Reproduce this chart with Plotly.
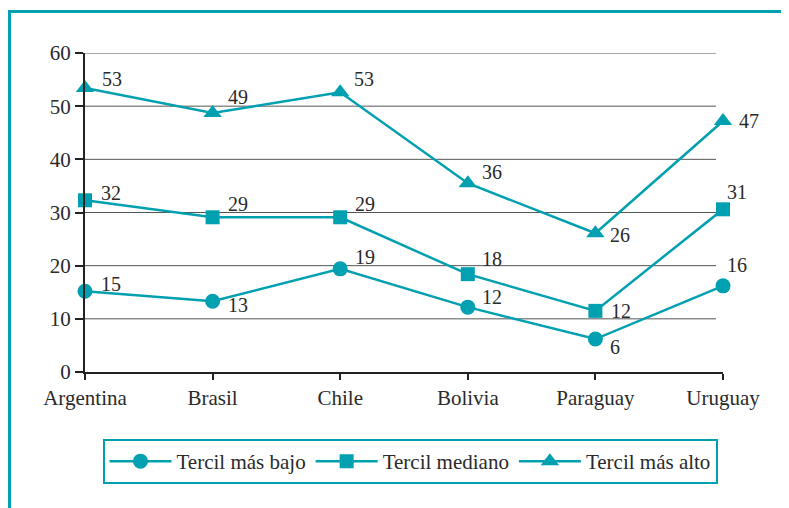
import plotly.graph_objects as go

countries = ["Argentina", "Brasil", "Chile", "Bolivia", "Paraguay", "Uruguay"]
bajo = [15.2, 13.3, 19.4, 12.2, 6.2, 16.2]
mediano = [32.3, 29.1, 29.1, 18.4, 11.5, 30.6]
alto = [53.4, 48.7, 52.6, 35.5, 26.1, 47.2]
y_ticks = [0, 10, 20, 30, 40, 50, 60]

# label offsets in pixels (dx, dy up) relative to each marker
bajo_off = [(26, 7), (25, -4), (25, 12), (24, 10), (20, -8), (14, 21)]
mediano_off = [(26, 7), (25, 13), (25, 13), (24, 15), (26, 0), (14, 17)]
alto_off = [(27, 9), (25, 16), (24, 13), (24, 11), (25, -2), (26, 0)]

TEAL = "#00A0B0"
FONT = "Liberation Serif"
TXT = "#2a2a2a"

# page body has an 8px margin; the figure is placed at (8, 8)
W, H = 781, 500
L, T = 77, 45
R = W - 715
B = H - 364
pw, ph = W - L - R, H - T - B

fig = go.Figure()
series = [
    ("Tercil más bajo", bajo, "circle", 15, bajo_off),
    ("Tercil mediano", mediano, "square", 14, mediano_off),
    ("Tercil más alto", alto, "triangle-up", 16, alto_off),
]
for name, vals, sym, sz, offs in series:
    fig.add_trace(go.Scatter(
        x=countries, y=vals, name=name, mode="lines+markers",
        line=dict(color=TEAL, width=2.5),
        marker=dict(symbol=sym, size=sz, color=TEAL),
        cliponaxis=False,
    ))
    for c, v, (dx, dy) in zip(countries, vals, offs):
        fig.add_annotation(x=c, y=v, text=str(round(v)), showarrow=False,
                           xanchor="center", yanchor="middle",
                           xshift=dx, yshift=dy,
                           font=dict(family=FONT, size=20, color=TXT))

# horizontal grid lines (stop slightly short of the last category)
gx1 = (708 - L) / pw
for v in y_ticks[1:]:
    fig.add_shape(type="line", xref="x domain", yref="y", x0=0, x1=gx1, y0=v, y1=v,
                  line=dict(color="#555", width=1), layer="below")

# teal frame
fig.add_shape(type="rect", xref="paper", yref="paper",
              x0=(1.5 - L) / pw, x1=(W + 10 - L) / pw,
              y0=(H - B - (H + 10)) / ph, y1=(H - B - 3.5) / ph,
              line=dict(color=TEAL, width=3), layer="below")

fig.update_layout(
    width=W, height=H,
    margin=dict(l=L, r=R, t=T, b=B),
    paper_bgcolor="white", plot_bgcolor="white",
    font=dict(family=FONT, size=21, color=TXT),
    showlegend=True,
    legend=dict(orientation="h", x=(410 - 8 - L) / pw, xanchor="center",
                y=(H - B - 431) / ph, yanchor="top",
                bordercolor=TEAL, borderwidth=2, bgcolor="white",
                font=dict(family=FONT, size=21, color=TXT),
                itemwidth=62, tracegroupgap=0),
    xaxis=dict(type="category", range=[0, 5], showgrid=False, zeroline=False,
               showline=True, linecolor="#222", linewidth=2,
               ticks="outside", ticklen=6, tickwidth=1.5, tickcolor="#222",
               tickfont=dict(family=FONT, size=21, color=TXT)),
    yaxis=dict(range=[0, 60], tickvals=y_ticks, showgrid=False, zeroline=False,
               showline=True, linecolor="#222", linewidth=2,
               ticks="outside", ticklen=8, tickwidth=1.5, tickcolor="#222",
               tickfont=dict(family=FONT, size=21, color=TXT)),
)

fig.write_html("out.html")
